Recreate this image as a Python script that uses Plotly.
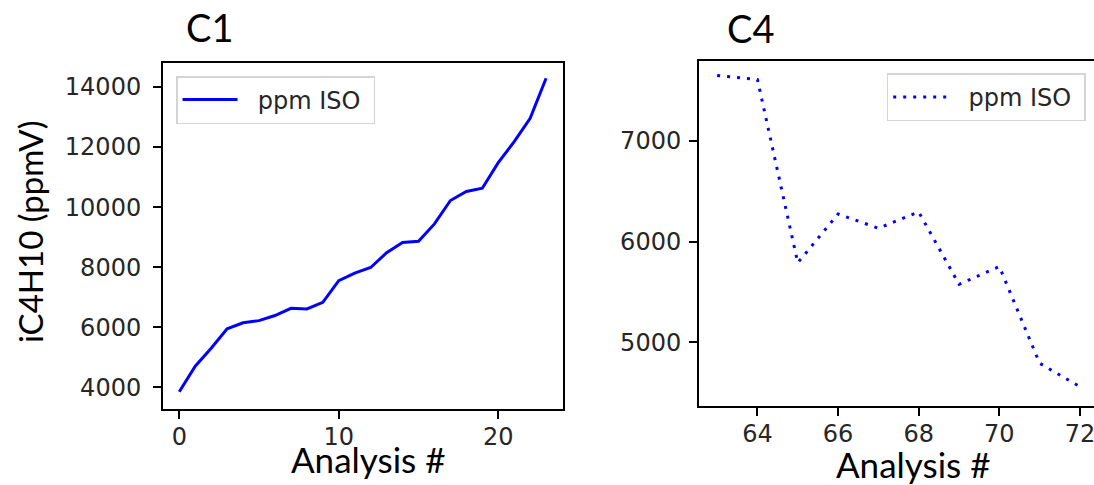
import plotly.graph_objects as go

# Run C1: isobutane concentration over successive analyses
c1_analysis = list(range(0, 24))
c1_ppm_iso = [3850, 4700, 5300, 5950, 6150, 6220, 6390, 6630, 6610, 6830,
              7550, 7800, 7990, 8480, 8820, 8860, 9440, 10220, 10520, 10630,
              11480, 12180, 12960, 14290]

# Run C4: isobutane concentration over successive analyses
c4_analysis = list(range(63, 73))
c4_ppm_iso = [7650, 7610, 5790, 6275, 6133, 6295, 5577, 5752, 4792, 4560]

c1_yticks = [4000, 6000, 8000, 10000, 12000, 14000]
c1_xticks = [0, 10, 20]
c4_yticks = [5000, 6000, 7000]
c4_xticks = [64, 66, 68, 70, 72]

SERIES_NAME = "ppm ISO"
# non-breaking spaces give the legend entry a little breathing room
LEGEND_NAME = "\u00a0\u00a0" + SERIES_NAME + "\u00a0"

W, H = 1094, 485
BLUE = "#0000ff"
TICK_FONT = dict(family="DejaVu Sans", size=24, color="#262626")
LABEL_FONT = dict(family="Lato", size=35, color="#000000")

fig = go.Figure()
fig.add_trace(go.Scatter(
    x=c1_analysis, y=c1_ppm_iso, mode="lines", name=LEGEND_NAME,
    line=dict(color=BLUE, width=3), xaxis="x", yaxis="y", legend="legend",
))
fig.add_trace(go.Scatter(
    x=c4_analysis, y=c4_ppm_iso, mode="lines", name=LEGEND_NAME,
    line=dict(color=BLUE, width=3, dash="3px,7px"), xaxis="x2", yaxis="y2",
    legend="legend2",
))

axis_common = dict(
    showline=True, linecolor="#000000", linewidth=2,
    ticks="outside", ticklen=8, tickwidth=2, tickcolor="#000000",
    showgrid=False, zeroline=False, automargin=False, tickfont=TICK_FONT,
    ticklabeloverflow="allow",
)

legend_common = dict(
    xanchor="left", yanchor="top",
    bgcolor="rgba(255,255,255,0.8)", bordercolor="#d4d4d4",
    borderwidth=1.5, itemwidth=55,
    font=dict(family="DejaVu Sans", size=24, color="#262626"),
)

fig.update_layout(
    template="none",
    width=W, height=H, autosize=False,
    margin=dict(l=0, r=0, t=0, b=0),
    paper_bgcolor="white", plot_bgcolor="white",
    showlegend=True,
    xaxis=dict(axis_common, domain=[163 / W, 563 / W], range=[-1.02, 24.06],
               tickvals=c1_xticks, mirror=True, anchor="y",
               ticklabelstandoff=-3),
    yaxis=dict(axis_common, domain=[(H - 409) / H, (H - 63) / H],
               range=[3277, 14800], tickvals=c1_yticks, tickformat="d",
               mirror=True, anchor="x", ticklabelstandoff=7),
    xaxis2=dict(axis_common, domain=[699 / W, 1.0], range=[62.55, 72.348],
                tickvals=c4_xticks, mirror=True, anchor="y2",
                ticklabelstandoff=-3),
    yaxis2=dict(axis_common, domain=[(H - 406) / H, (H - 60.7) / H],
                range=[4368, 7797], tickvals=c4_yticks, tickformat="d",
                mirror=False, anchor="x2", ticklabelstandoff=3),
    legend=dict(legend_common, x=176 / W, y=(H - 76) / H),
    legend2=dict(legend_common, x=886.7 / W, y=(H - 73.3) / H),
)

annotations = [
    dict(text="C1", x=209.7 / W, y=(H - 27) / H, font=dict(family="Lato", size=38)),
    dict(text="C4", x=750.5 / W, y=(H - 27.5) / H, font=dict(family="Lato", size=38)),
    dict(text="Analysis #", x=368 / W, y=(H - 459) / H, font=LABEL_FONT),
    dict(text="Analysis #", x=914 / W, y=(H - 464) / H, font=LABEL_FONT),
    dict(text="iC4H10 (ppmV)", x=30 / W, y=(H - 232) / H, textangle=-90,
         font=dict(family="Lato", size=33, color="#000000")),
]
for a in annotations:
    a.update(xref="paper", yref="paper", xanchor="center", yanchor="middle",
             showarrow=False)
    a["font"].setdefault("color", "#000000")
    fig.add_annotation(**a)

fig.write_html("out.html")
